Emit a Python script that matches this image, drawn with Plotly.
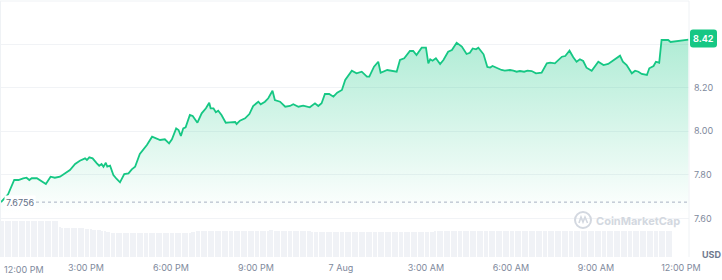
import plotly.graph_objects as go
import pandas as pd

# ---------------- data ----------------
times = [
    "2023-08-06 12:00", "2023-08-06 12:15", "2023-08-06 12:28", "2023-08-06 12:37", "2023-08-06 12:47",
    "2023-08-06 12:54", "2023-08-06 13:00", "2023-08-06 13:05", "2023-08-06 13:16", "2023-08-06 13:26",
    "2023-08-06 13:35", "2023-08-06 13:45", "2023-08-06 13:54", "2023-08-06 14:05", "2023-08-06 14:16",
    "2023-08-06 14:26", "2023-08-06 14:37", "2023-08-06 14:47", "2023-08-06 14:58", "2023-08-06 15:02",
    "2023-08-06 15:07", "2023-08-06 15:14", "2023-08-06 15:23", "2023-08-06 15:28", "2023-08-06 15:33",
    "2023-08-06 15:37", "2023-08-06 15:42", "2023-08-06 15:45", "2023-08-06 15:51", "2023-08-06 15:58",
    "2023-08-06 16:05", "2023-08-06 16:12", "2023-08-06 16:21", "2023-08-06 16:30", "2023-08-06 16:37",
    "2023-08-06 16:44", "2023-08-06 16:54", "2023-08-06 17:09", "2023-08-06 17:20", "2023-08-06 17:30",
    "2023-08-06 17:37", "2023-08-06 17:47", "2023-08-06 17:56", "2023-08-06 18:02", "2023-08-06 18:11",
    "2023-08-06 18:16", "2023-08-06 18:21", "2023-08-06 18:26", "2023-08-06 18:31", "2023-08-06 18:40",
    "2023-08-06 18:46", "2023-08-06 18:56", "2023-08-06 19:05", "2023-08-06 19:14", "2023-08-06 19:21",
    "2023-08-06 19:24", "2023-08-06 19:30", "2023-08-06 19:35", "2023-08-06 19:40", "2023-08-06 19:47",
    "2023-08-06 19:56", "2023-08-06 20:05", "2023-08-06 20:16", "2023-08-06 20:19", "2023-08-06 20:26",
    "2023-08-06 20:37", "2023-08-06 20:46", "2023-08-06 20:54", "2023-08-06 21:05", "2023-08-06 21:10",
    "2023-08-06 21:19", "2023-08-06 21:26", "2023-08-06 21:35", "2023-08-06 21:40", "2023-08-06 21:51",
    "2023-08-06 22:02", "2023-08-06 22:12", "2023-08-06 22:19", "2023-08-06 22:30", "2023-08-06 22:40",
    "2023-08-06 22:54", "2023-08-06 23:05", "2023-08-06 23:12", "2023-08-06 23:19", "2023-08-06 23:26",
    "2023-08-06 23:35", "2023-08-06 23:44", "2023-08-06 23:52", "2023-08-07 00:02", "2023-08-07 00:09",
    "2023-08-07 00:13", "2023-08-07 00:23", "2023-08-07 00:33", "2023-08-07 00:44", "2023-08-07 00:55",
    "2023-08-07 01:00", "2023-08-07 01:10", "2023-08-07 01:19", "2023-08-07 01:24", "2023-08-07 01:38",
    "2023-08-07 01:58", "2023-08-07 02:05", "2023-08-07 02:14", "2023-08-07 02:26", "2023-08-07 02:33",
    "2023-08-07 02:40", "2023-08-07 02:51", "2023-08-07 03:00", "2023-08-07 03:05", "2023-08-07 03:09",
    "2023-08-07 03:14", "2023-08-07 03:21", "2023-08-07 03:30", "2023-08-07 03:37", "2023-08-07 03:47",
    "2023-08-07 03:55", "2023-08-07 04:05", "2023-08-07 04:16", "2023-08-07 04:26", "2023-08-07 04:33",
    "2023-08-07 04:39", "2023-08-07 04:46", "2023-08-07 04:51", "2023-08-07 05:02", "2023-08-07 05:10",
    "2023-08-07 05:16", "2023-08-07 05:21", "2023-08-07 05:30", "2023-08-07 05:40", "2023-08-07 05:47",
    "2023-08-07 05:58", "2023-08-07 06:05", "2023-08-07 06:12", "2023-08-07 06:19", "2023-08-07 06:28",
    "2023-08-07 06:35", "2023-08-07 06:44", "2023-08-07 06:53", "2023-08-07 07:05", "2023-08-07 07:16",
    "2023-08-07 07:23", "2023-08-07 07:33", "2023-08-07 07:48", "2023-08-07 07:55", "2023-08-07 08:04",
    "2023-08-07 08:12", "2023-08-07 08:19", "2023-08-07 08:26", "2023-08-07 08:33", "2023-08-07 08:40",
    "2023-08-07 08:51", "2023-08-07 09:05", "2023-08-07 09:16", "2023-08-07 09:26", "2023-08-07 09:40",
    "2023-08-07 09:51", "2023-08-07 09:57", "2023-08-07 10:05", "2023-08-07 10:16", "2023-08-07 10:23",
    "2023-08-07 10:30", "2023-08-07 10:37", "2023-08-07 10:48", "2023-08-07 10:53", "2023-08-07 11:02",
    "2023-08-07 11:07", "2023-08-07 11:14", "2023-08-07 11:19", "2023-08-07 11:33", "2023-08-07 11:38",
    "2023-08-07 12:16",
]

prices = [
    7.6756, 7.7115, 7.7770, 7.7770, 7.7848,
    7.7875, 7.7770, 7.7850, 7.7850, 7.7724,
    7.7587, 7.7921, 7.7875, 7.7921, 7.8104,
    7.8228, 7.8503, 7.8654, 7.8764, 7.8686,
    7.8810, 7.8764, 7.8535, 7.8425, 7.8503,
    7.8379, 7.8563, 7.8379, 7.8425, 7.7999,
    7.7816, 7.7665, 7.8045, 7.8077, 7.8260,
    7.8379, 7.8961, 7.9373, 7.9754, 7.9680,
    7.9602, 7.9634, 7.9451, 7.9634, 8.0138,
    8.0060, 7.9786, 8.0138, 8.0184, 8.0748,
    8.0702, 8.0395, 8.0825, 8.1055, 8.1311,
    8.1055, 8.1055, 8.0871, 8.0945, 8.0748,
    8.0395, 8.0413, 8.0427, 8.0335, 8.0486,
    8.0596, 8.0793, 8.1160, 8.1357, 8.1238,
    8.1357, 8.1513, 8.1861, 8.1435, 8.1357,
    8.1128, 8.1160, 8.1238, 8.1128, 8.1174,
    8.1100, 8.1284, 8.1160, 8.1284, 8.1710,
    8.1710, 8.1586, 8.1769, 8.1893, 8.2351,
    8.2475, 8.2777, 8.2658, 8.2731, 8.2502,
    8.2502, 8.2960, 8.3189, 8.2685, 8.2809,
    8.2731, 8.3267, 8.3345, 8.3679, 8.3679,
    8.3496, 8.3831, 8.3831, 8.3116, 8.3299,
    8.3235, 8.3345, 8.3084, 8.3267, 8.3647,
    8.3725, 8.4060, 8.3885, 8.3542, 8.3601,
    8.3794, 8.3757, 8.3831, 8.3528, 8.2946,
    8.2923, 8.2992, 8.2887, 8.2809, 8.2777,
    8.2809, 8.2777, 8.2731, 8.2763, 8.2731,
    8.2777, 8.2763, 8.2658, 8.2685, 8.3116,
    8.3143, 8.3116, 8.3418, 8.3450, 8.3693,
    8.3391, 8.3189, 8.3299, 8.3221, 8.2914,
    8.2777, 8.3189, 8.3038, 8.3084, 8.3299,
    8.3464, 8.3189, 8.3038, 8.2658, 8.2777,
    8.2731, 8.2626, 8.2580, 8.2887, 8.2992,
    8.3189, 8.3143, 8.4183, 8.4183, 8.4092,
    8.4200,
]

open_price = 7.6756
last_price = 8.42

# 5-minute volume bars (millions USD), one row per hour starting 12:00 PM
volumes = [
    9.0, 9.0, 9.0, 9.0, 9.0, 9.0, 9.0, 9.0, 9.0, 9.0, 9.0, 9.0,
    9.0, 9.0, 9.1, 9.1, 9.1, 9.0, 9.0, 9.0, 9.0, 9.0, 9.0, 9.0,
    9.0, 7.4, 7.2, 7.2, 7.2, 7.2, 7.2, 7.2, 7.2, 7.2, 7.2, 7.2,
    7.1, 7.0, 7.0, 6.8, 6.8, 6.7, 6.7, 6.6, 6.5, 6.3, 6.2, 6.1,
    6.1, 6.1, 6.1, 6.1, 6.1, 6.1, 6.1, 6.1, 6.1, 6.1, 6.1, 6.1,
    6.1, 6.1, 6.1, 6.1, 6.1, 6.1, 6.1, 6.1, 6.1, 6.1, 6.1, 6.1,
    6.1, 6.1, 6.1, 6.1, 6.1, 6.1, 6.1, 6.1, 6.1, 6.2, 6.3, 6.4,
    6.5, 6.5, 6.5, 6.5, 6.5, 6.5, 6.5, 6.5, 6.5, 6.5, 6.5, 6.5,
    6.5, 6.5, 6.5, 6.5, 6.5, 6.5, 6.5, 6.5, 6.5, 6.5, 6.5, 6.5,
    6.5, 6.5, 6.5, 6.5, 6.5, 6.6, 6.7, 6.7, 6.6, 6.5, 6.5, 6.5,
    6.5, 6.5, 6.5, 6.5, 6.5, 6.5, 6.5, 6.5, 6.5, 6.5, 6.5, 6.4,
    6.3, 6.3, 6.3, 6.3, 6.3, 6.3, 6.3, 6.3, 6.3, 6.3, 6.3, 6.3,
    6.3, 6.3, 6.3, 6.3, 6.3, 6.3, 6.3, 6.3, 6.3, 6.3, 6.3, 6.3,
    6.3, 6.3, 6.3, 6.3, 6.3, 6.3, 6.3, 6.3, 6.3, 6.3, 6.3, 6.3,
    6.3, 6.3, 6.3, 6.3, 6.3, 6.3, 6.3, 6.3, 6.3, 6.3, 6.3, 6.3,
    6.3, 6.3, 6.3, 6.3, 6.4, 6.4, 6.4, 6.4, 6.4, 6.4, 6.4, 6.4,
    6.4, 6.4, 6.4, 6.4, 6.4, 6.4, 6.4, 6.4, 6.4, 6.4, 6.4, 6.4,
    6.4, 6.4, 6.4, 6.4, 6.4, 6.4, 6.4, 6.4, 6.4, 6.4, 6.4, 6.4,
    6.4, 6.4, 6.4, 6.4, 6.4, 6.4, 6.4, 6.4, 6.4, 6.4, 6.4, 6.4,
    6.4, 6.4, 6.4, 6.4, 6.4, 6.4, 6.5, 6.5, 6.5, 6.5, 6.5, 6.5,
    6.5, 6.5, 6.5, 6.5, 6.5, 6.5, 6.5, 6.5, 6.5, 6.5, 6.5, 6.5,
    6.6, 6.6, 6.6, 6.6, 6.6, 6.6, 6.6, 6.6, 6.6, 6.6, 6.6, 6.6,
    6.6, 6.6, 6.6, 6.6, 6.6, 6.6, 6.6, 6.6, 6.6, 6.6, 6.6, 6.6,
    6.6, 6.6, 6.6, 6.6, 6.6, 6.6, 6.6, 6.6, 6.6,
]
vol_times = pd.date_range("2023-08-06 12:00", periods=len(volumes), freq="5min")

x_tickvals = ["2023-08-06 15:00", "2023-08-06 18:00", "2023-08-06 21:00", "2023-08-07 00:00",
              "2023-08-07 03:00", "2023-08-07 06:00", "2023-08-07 09:00", "2023-08-07 12:00"]
x_ticktext = ["3:00 PM", "6:00 PM", "9:00 PM", "7 Aug", "3:00 AM", "6:00 AM", "9:00 AM", "12:00 PM"]
first_tick_text = "12:00 PM"

y_tickvals = [7.6, 7.8, 8.0, 8.2, 8.4]
y_ticktext = ["7.60", "7.80", "8.00", "8.20", ""]

# ---------------- layout geometry ----------------
W, H = 722, 280
PL, PR, PT, PB = 0, 689, 1, 257          # plot area in pixels
pw, ph = PR - PL, PB - PT

def px(x):
    return (x - PL) / pw

def py(y):
    return (PB - y) / ph

GREEN = "#16c784"
GRAY = "#808a9d"
FONT = "Inter, Roboto, Arial, sans-serif"

fig = go.Figure()

fig.add_trace(go.Scatter(
    x=times, y=prices, mode="lines",
    line=dict(color=GREEN, width=1.8),
    fill="tozeroy",
    fillgradient=dict(
        type="vertical",
        colorscale=[[0, "rgba(22,199,132,0)"], [1, "rgba(22,199,132,0.34)"]],
        start=7.62, stop=8.42,
    ),
    hoverinfo="skip", xaxis="x", yaxis="y",
))

fig.add_trace(go.Bar(
    x=vol_times, y=volumes, marker=dict(color="#f0f2f6", line=dict(width=0)),
    width=170000, xaxis="x", yaxis="y2", hoverinfo="skip",
))

# opening price dotted line
fig.add_shape(type="line", xref="paper", yref="y", x0=px(36), x1=1,
              y0=open_price, y1=open_price,
              line=dict(color="#a7b1c2", width=1, dash="dot"), layer="above")

# frame lines
for shp in [
    dict(x0=0, x1=1, y0=py(PT), y1=py(PT)),
    dict(x0=1, x1=1, y0=0, y1=1),
    dict(x0=px(0.5), x1=px(0.5), y0=0, y1=1),
]:
    fig.add_shape(type="line", xref="paper", yref="paper", line=dict(color="#eff2f5", width=1), **shp)

# last price badge (rounded rectangle)
bx0, bx1, by0, by1, r = 690, 717, 29.5, 47.5, 3
path = (f"M {px(bx0 + r)} {py(by0)} L {px(bx1 - r)} {py(by0)} "
        f"Q {px(bx1)} {py(by0)} {px(bx1)} {py(by0 + r)} L {px(bx1)} {py(by1 - r)} "
        f"Q {px(bx1)} {py(by1)} {px(bx1 - r)} {py(by1)} L {px(bx0 + r)} {py(by1)} "
        f"Q {px(bx0)} {py(by1)} {px(bx0)} {py(by1 - r)} L {px(bx0)} {py(by0 + r)} "
        f"Q {px(bx0)} {py(by0)} {px(bx0 + r)} {py(by0)} Z")
fig.add_shape(type="path", path=path, xref="paper", yref="paper",
              fillcolor=GREEN, line=dict(width=0), layer="above")
fig.add_annotation(x=px((bx0 + bx1) / 2), y=py((by0 + by1) / 2), xref="paper", yref="paper",
                   text=f"<b>{last_price:.2f}</b>", showarrow=False,
                   font=dict(family=FONT, size=9, color="white"),
                   xanchor="center", yanchor="middle")

# open price label
fig.add_annotation(x=px(4), y=open_price, xref="paper", yref="y",
                   text=f"{open_price}", showarrow=False, bgcolor="white", borderpad=1,
                   font=dict(family=FONT, size=9, color="#616e85"),
                   xanchor="left", yanchor="middle")

# first x label (shifted to stay inside)
fig.add_annotation(x=px(2), y=py(269.5), xref="paper", yref="paper",
                   text=first_tick_text, showarrow=False,
                   font=dict(family=FONT, size=9, color=GRAY),
                   xanchor="left", yanchor="middle")

# USD label
fig.add_annotation(x=px(700), y=py(254), xref="paper", yref="paper",
                   text="<b>USD</b>", showarrow=False,
                   font=dict(family=FONT, size=9, color="#6f7a8f"),
                   xanchor="left", yanchor="middle")

# CoinMarketCap watermark
fig.add_shape(type="circle", xref="paper", yref="paper",
              x0=px(575), x1=px(591), y0=py(228), y1=py(212),
              line=dict(color="#d3d8e0", width=2), layer="above")
fig.add_shape(type="path", xref="paper", yref="paper",
              path=(f"M {px(579)} {py(223)} L {px(581)} {py(217)} L {px(583)} {py(222)} "
                    f"L {px(585)} {py(217)} L {px(587.5)} {py(223)}"),
              line=dict(color="#d3d8e0", width=1.6), layer="above")
fig.add_annotation(x=px(594), y=py(220.5), xref="paper", yref="paper",
                   text="<b>CoinMarketCap</b>", showarrow=False,
                   font=dict(family=FONT, size=11, color="#d3d8e0"),
                   xanchor="left", yanchor="middle")

fig.update_layout(
    width=W, height=H,
    margin=dict(l=PL, r=W - PR, t=PT, b=H - PB),
    paper_bgcolor="white", plot_bgcolor="rgba(0,0,0,0)",
    showlegend=False,
    font=dict(family=FONT, size=9, color=GRAY),
    xaxis=dict(
        type="date",
        range=["2023-08-06 11:57:53", "2023-08-07 12:17:06"],
        tickvals=x_tickvals, ticktext=x_ticktext,
        showgrid=False, zeroline=False, showline=False, ticks="",
        tickfont=dict(family=FONT, size=9, color=GRAY),
        ticklabelstandoff=4,
        fixedrange=True,
    ),
    yaxis=dict(
        domain=[0, 1],
        range=[7.4243, 8.597],
        side="right",
        tickvals=y_tickvals, ticktext=y_ticktext,
        showgrid=True, gridcolor="#f1f3f6", gridwidth=1,
        zeroline=False, showline=False, ticks="",
        tickfont=dict(family=FONT, size=9, color=GRAY),
        ticklabelstandoff=4,
        fixedrange=True,
    ),
    yaxis2=dict(
        domain=[0, 36 / ph],
        range=[0, 9.0],
        visible=False, anchor="x",
        fixedrange=True,
    ),
    bargap=0,
)

fig.write_html("out.html")
